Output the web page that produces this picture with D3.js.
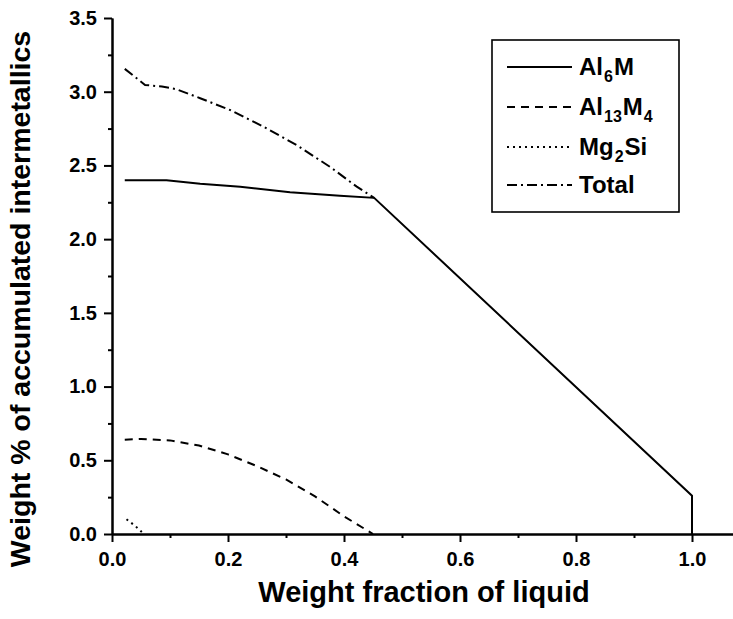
<!DOCTYPE html>
<html>
<head>
<meta charset="utf-8">
<script src="https://cdn.jsdelivr.net/npm/d3@7"></script>
<style>
  body { margin: 0; background: #fff; }
  text { font-family: "Liberation Sans", Arial, sans-serif; font-weight: bold; fill: #000; }
  .axis path, .axis line { stroke: #000; stroke-width: 2; }
</style>
</head>
<body>
<svg width="733" height="619"></svg>
<script>
// values: [weight fraction of liquid, weight %]
const al6m = [[0.022, 2.40], [0.094, 2.40], [0.152, 2.375], [0.221, 2.356], [0.307, 2.318], [0.393, 2.295], [0.452, 2.28], [1.0, 0.26], [1.0, 0.0]];
const al13m4 = [[0.022, 0.64], [0.05, 0.645], [0.1, 0.635], [0.15, 0.60], [0.2, 0.54], [0.25, 0.46], [0.3, 0.37], [0.35, 0.255], [0.4, 0.12], [0.45, 0.0]];
const mg2si = [[0.025, 0.10], [0.04, 0.055], [0.055, 0.0]];
const total = [[0.022, 3.155], [0.057, 3.046], [0.086, 3.035], [0.111, 3.017], [0.152, 2.956], [0.203, 2.877], [0.261, 2.763], [0.318, 2.639], [0.376, 2.49], [0.422, 2.356], [0.452, 2.28]];

const xTicks = [0, 0.2, 0.4, 0.6, 0.8, 1.0];
const yTicks = [0, 0.5, 1.0, 1.5, 2.0, 2.5, 3.0, 3.5];
const xMinor = [0.1, 0.3, 0.5, 0.7, 0.9];
const yMinor = [0.25, 0.75, 1.25, 1.75, 2.25, 2.75, 3.25];

let svg = d3.select("svg");

let x = d3.scaleLinear().domain([0, 1.07]).range([112, 732.6]),
  y = d3.scaleLinear().domain([0, 3.5]).range([534, 18]);

// minor ticks
svg.append("g")
  .attr("class", "axis")
  .attr("transform", "translate(0,534)")
  .call(d3.axisBottom(x).tickValues(xMinor).tickSize(4).tickSizeOuter(0).tickFormat(""));
svg.append("g")
  .attr("class", "axis")
  .attr("transform", "translate(112,0)")
  .call(d3.axisLeft(y).tickValues(yMinor).tickSize(4).tickSizeOuter(0).tickFormat(""));

// major ticks
let gx = svg.append("g")
  .attr("class", "axis")
  .attr("transform", "translate(0,534)")
  .call(d3.axisBottom(x).tickValues(xTicks).tickSize(8).tickSizeOuter(0).tickPadding(10).tickFormat(d3.format(".1f")));
gx.selectAll("text").attr("font-size", 20).attr("dy", "0.71em");

let gy = svg.append("g")
  .attr("class", "axis")
  .attr("transform", "translate(112,0)")
  .call(d3.axisLeft(y).tickValues(yTicks).tickSize(8).tickSizeOuter(0).tickPadding(7).tickFormat(d3.format(".1f")));
gy.selectAll("text").attr("font-size", 20);
svg.selectAll(".axis text").style("font-family", "'Liberation Sans', Arial, sans-serif").style("font-weight", "bold");

// axis titles
svg.append("text")
  .attr("x", 424)
  .attr("y", 602)
  .attr("text-anchor", "middle")
  .attr("font-size", 29)
  .text("Weight fraction of liquid");

svg.append("text")
  .attr("transform", "translate(30,299) rotate(-90)")
  .attr("text-anchor", "middle")
  .attr("font-size", 28.5)
  .text("Weight % of accumulated intermetallics");

// series
let line = d3.line()
  .x(function(d) { return x(d[0]); })
  .y(function(d) { return y(d[1]); });

let series = [
  {name: "Al6M", data: al6m, dash: null},
  {name: "Al13M4", data: al13m4, dash: "8,6"},
  {name: "Mg2Si", data: mg2si, dash: "2,4"},
  {name: "Total", data: total, dash: "10,4,2,4"}
];

svg.selectAll(".series")
  .data(series)
  .enter().append("path")
  .attr("class", "series")
  .attr("d", function(d) { return line(d.data); })
  .attr("fill", "none")
  .attr("stroke", "#000")
  .attr("stroke-width", 2)
  .attr("stroke-dasharray", function(d) { return d.dash; });

// legend
svg.append("rect")
  .attr("x", 492).attr("y", 40)
  .attr("width", 187).attr("height", 172)
  .attr("fill", "#fff")
  .attr("stroke", "#000")
  .attr("stroke-width", 1.6);

// [text, is subscript]
let legendParts = [
  [["Al", 0], ["6", 1], ["M", 0]],
  [["Al", 0], ["13", 1], ["M", 0], ["4", 1]],
  [["Mg", 0], ["2", 1], ["Si", 0]],
  [["Total", 0]]
];
let rowY = [67, 107, 147, 185];

series.forEach(function(s, i) {
  svg.append("line")
    .attr("x1", 507).attr("x2", 572)
    .attr("y1", rowY[i]).attr("y2", rowY[i])
    .attr("stroke", "#000")
    .attr("stroke-width", 2)
    .attr("stroke-dasharray", s.dash);

  let t = svg.append("text")
    .attr("x", 578)
    .attr("y", rowY[i] + 8)
    .attr("font-size", 24);
  let prevSub = 0;
  legendParts[i].forEach(function(p) {
    t.append("tspan")
      .attr("font-size", p[1] ? 16 : 24)
      .attr("dx", 1)
      .attr("dy", p[1] ? 7 : (prevSub ? -7 : 0))
      .text(p[0]);
    prevSub = p[1];
  });
});
</script>
</body>
</html>
